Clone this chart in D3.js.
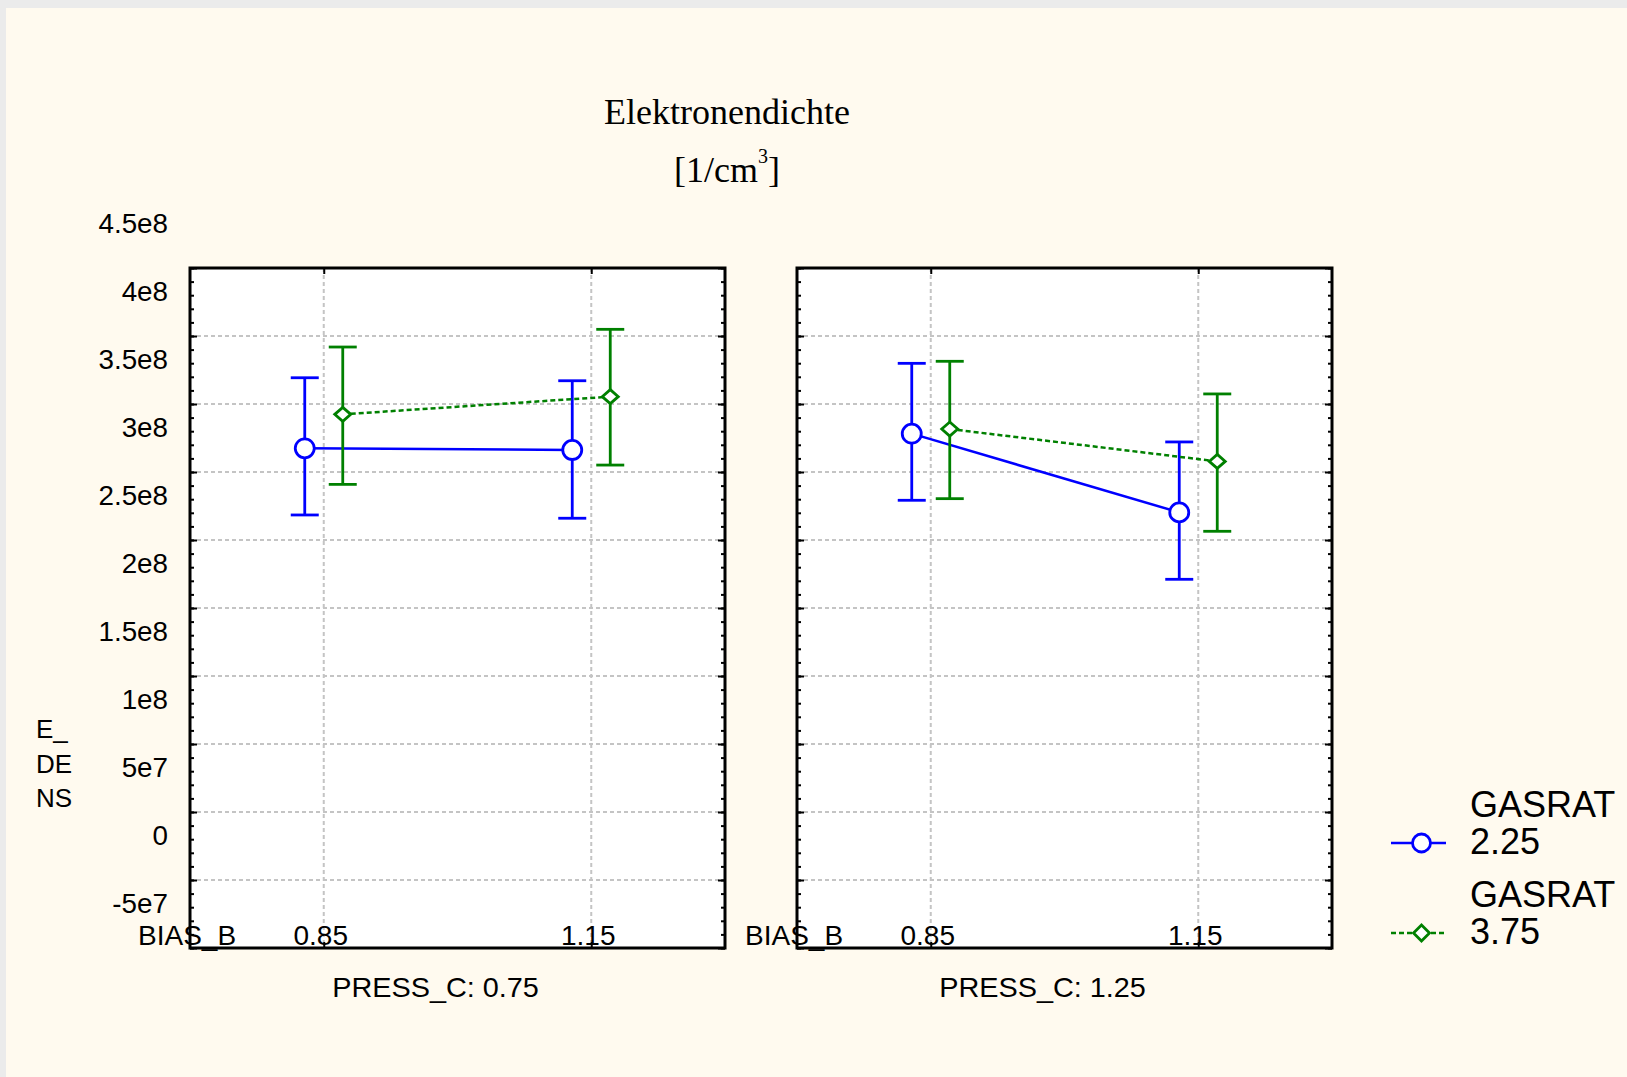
<!DOCTYPE html>
<html>
<head>
<meta charset="utf-8">
<script src="https://cdn.jsdelivr.net/npm/d3@7"></script>
<style>
  body { margin: 0; background: #ebebeb; }
  svg { display: block; }
</style>
</head>
<body>
<div id="chart"></div>
<script>
// Factor levels
var biasLevels = [0.85, 1.15];
var biasLabels = ["0.85", "1.15"];
var pressLevels = ["0.75", "1.25"];
var gasratLevels = ["2.25", "3.75"];

// Means and confidence limits, one row per PRESS_C panel, one value per BIAS_B level
var mean225 = [[2.674e8, 2.662e8], [2.782e8, 2.203e8]];
var low225  = [[2.184e8, 2.160e8], [2.292e8, 1.711e8]];
var high225 = [[3.193e8, 3.171e8], [3.299e8, 2.721e8]];

var mean375 = [[2.924e8, 3.054e8], [2.816e8, 2.578e8]];
var low375  = [[2.409e8, 2.551e8], [2.304e8, 2.064e8]];
var high375 = [[3.419e8, 3.549e8], [3.314e8, 3.074e8]];

// Y axis ticks
var yTickValues = [-5e7, 0, 5e7, 1e8, 1.5e8, 2e8, 2.5e8, 3e8, 3.5e8, 4e8, 4.5e8];
var yTickLabels = ["-5e7", "0", "5e7", "1e8", "1.5e8", "2e8", "2.5e8", "3e8", "3.5e8", "4e8", "4.5e8"];

var width = 1627, height = 1077;
var sans = "'Liberation Sans', Arial, sans-serif";
var serif = "'Liberation Serif', 'Times New Roman', serif";

var svg = d3.select("#chart").append("svg")
    .attr("width", width)
    .attr("height", height);

// page background
svg.append("rect").attr("width", width).attr("height", height).attr("fill", "#ebebeb");
svg.append("rect").attr("x", 6).attr("y", 8).attr("width", width - 6).attr("height", height - 8).attr("fill", "#fffaef");

// text helper with a horizontal stretch like the original rendering
function label(g, x, y, str, size, sx, anchor, family) {
    return g.append("text")
        .attr("transform", "translate(" + x + "," + y + ") scale(" + sx + ",1)")
        .attr("text-anchor", anchor || "start")
        .attr("font-family", family || sans)
        .attr("font-size", size)
        .attr("fill", "#000")
        .text(str);
}

// layout
var panelTop = 268, panelBottom = 948;
var panelW = 535, panelGap = 72, panelLeft0 = 190;
var dodge = [-19, 19];

var y = d3.scaleLinear().domain([-1e8, 4e8]).range([panelBottom, panelTop]);
var x = d3.scaleLinear().domain([0.7, 1.3]).range([0, panelW]);

var series = [
    { name: gasratLevels[0], mean: mean225, low: low225, high: high225, color: "#0000ff", dash: null, marker: "circle" },
    { name: gasratLevels[1], mean: mean375, low: low375, high: high375, color: "#008000", dash: "5,3", marker: "diamond" }
];

function drawMarker(g, type, color) {
    if (type === "circle") {
        g.append("circle").attr("r", 9.5).attr("fill", "#fff").attr("stroke", color).attr("stroke-width", 2.8);
    } else {
        g.append("path").attr("d", "M0,-7L8,0L0,7L-8,0Z").attr("fill", "#fff").attr("stroke", color).attr("stroke-width", 2.8);
    }
}

// Title
label(svg, 727, 124, "Elektronendichte", 36, 1, "middle", serif);
var sub = svg.append("text")
    .attr("x", 727).attr("y", 182)
    .attr("text-anchor", "middle")
    .attr("font-family", serif)
    .attr("font-size", 36);
sub.append("tspan").text("[1/cm");
sub.append("tspan").attr("font-size", 20).attr("dy", -19).text("3");
sub.append("tspan").attr("dy", 19).text("]");

// Y tick labels (drawn below their tick, like the original)
yTickValues.forEach(function(v, i) {
    label(svg, 168, y(v) + 33, yTickLabels[i], 27, 1.03, "end");
});

// Y axis title
["E_", "DE", "NS"].forEach(function(s, i) {
    label(svg, 36, 738 + i * 34.5, s, 26, 1, "start");
});

pressLevels.forEach(function(press, p) {
    var px = panelLeft0 + p * (panelW + panelGap);
    var g = svg.append("g").attr("transform", "translate(" + px + ",0)");

    g.append("rect")
        .attr("x", 0).attr("y", panelTop)
        .attr("width", panelW).attr("height", panelBottom - panelTop)
        .attr("fill", "#fff");

    // grid
    var grid = g.append("g").attr("class", "grid");
    grid.selectAll("line.h")
        .data(yTickValues.filter(function(v) { return y(v) > panelTop + 2 && y(v) < panelBottom - 2; }))
        .enter().append("line")
        .attr("x1", 0).attr("x2", panelW)
        .attr("y1", function(d) { return y(d); }).attr("y2", function(d) { return y(d); })
        .attr("stroke", "#c4c4c4").attr("stroke-width", 2).attr("stroke-dasharray", "4,3");
    grid.selectAll("line.v")
        .data(biasLevels)
        .enter().append("line")
        .attr("x1", function(d) { return x(d); }).attr("x2", function(d) { return x(d); })
        .attr("y1", panelTop).attr("y2", panelBottom)
        .attr("stroke", "#c4c4c4").attr("stroke-width", 2).attr("stroke-dasharray", "4,3");

    // minor and major ticks on left/right borders (inward)
    var minor = d3.range(-1e8, 4e8 + 1, 1e7);
    var major = d3.range(-1e8, 4e8 + 1, 5e7);
    var leftAxis = d3.axisRight(y).tickValues(minor).tickSize(4).tickFormat("");
    var rightAxis = d3.axisLeft(y).tickValues(minor).tickSize(4).tickFormat("");
    g.append("g").call(leftAxis).call(function(a) { a.select(".domain").remove(); })
        .selectAll("line").attr("stroke", "#000").attr("stroke-width", 2);
    g.append("g").attr("transform", "translate(" + panelW + ",0)").call(rightAxis)
        .call(function(a) { a.select(".domain").remove(); })
        .selectAll("line").attr("stroke", "#000").attr("stroke-width", 2);
    g.append("g").call(d3.axisRight(y).tickValues(major).tickSize(7).tickFormat(""))
        .call(function(a) { a.select(".domain").remove(); })
        .selectAll("line").attr("stroke", "#000").attr("stroke-width", 2);
    g.append("g").attr("transform", "translate(" + panelW + ",0)")
        .call(d3.axisLeft(y).tickValues(major).tickSize(7).tickFormat(""))
        .call(function(a) { a.select(".domain").remove(); })
        .selectAll("line").attr("stroke", "#000").attr("stroke-width", 2);
    // top and bottom ticks at the categories
    g.append("g").attr("transform", "translate(0," + panelTop + ")")
        .call(d3.axisBottom(x).tickValues(biasLevels).tickSize(6).tickFormat(""))
        .call(function(a) { a.select(".domain").remove(); })
        .selectAll("line").attr("stroke", "#000").attr("stroke-width", 2);

    // category labels
    biasLevels.forEach(function(b, i) {
        label(g, x(b) - 3, 945, biasLabels[i], 28, 1, "middle");
    });
    label(g, -52, 945, "BIAS_B", 28, 1, "start");

    g.append("g").attr("transform", "translate(0," + panelBottom + ")")
        .call(d3.axisTop(x).tickValues(biasLevels).tickSize(6).tickFormat(""))
        .call(function(a) { a.select(".domain").remove(); })
        .selectAll("line").attr("stroke", "#000").attr("stroke-width", 2);

    // frame
    g.append("rect")
        .attr("x", 0).attr("y", panelTop)
        .attr("width", panelW).attr("height", panelBottom - panelTop)
        .attr("fill", "none").attr("stroke", "#000").attr("stroke-width", 3);

    label(g, panelW / 2 - 22, 997, "PRESS_C: " + press, 28, 1.03, "middle");

    // series
    series.forEach(function(s, k) {
        var pts = biasLevels.map(function(b, i) {
            return { x: x(b) + dodge[k], m: s.mean[p][i], lo: s.low[p][i], hi: s.high[p][i] };
        });
        var sg = g.append("g");
        // error bars
        pts.forEach(function(d) {
            sg.append("line").attr("x1", d.x).attr("x2", d.x).attr("y1", y(d.lo)).attr("y2", y(d.hi))
                .attr("stroke", s.color).attr("stroke-width", 2.8);
            [d.lo, d.hi].forEach(function(v) {
                sg.append("line").attr("x1", d.x - 14).attr("x2", d.x + 14).attr("y1", y(v)).attr("y2", y(v))
                    .attr("stroke", s.color).attr("stroke-width", 2.8);
            });
        });
        sg.append("path")
            .datum(pts)
            .attr("d", d3.line().x(function(d) { return d.x; }).y(function(d) { return y(d.m); }))
            .attr("fill", "none").attr("stroke", s.color).attr("stroke-width", 2.5)
            .attr("stroke-dasharray", s.dash);
        pts.forEach(function(d) {
            var mg = sg.append("g").attr("transform", "translate(" + d.x + "," + y(d.m) + ")");
            drawMarker(mg, s.marker, s.color);
        });
    });
});

// Legend
series.forEach(function(s, k) {
    var ly = 843 + k * 90;
    var lg = svg.append("g");
    lg.append("line").attr("x1", 1391).attr("x2", 1446).attr("y1", ly).attr("y2", ly)
        .attr("stroke", s.color).attr("stroke-width", 2.5).attr("stroke-dasharray", s.dash);
    var mg = lg.append("g").attr("transform", "translate(1421.5," + ly + ")");
    if (s.marker === "circle") {
        mg.append("circle").attr("r", 9).attr("fill", "#fff").attr("stroke", s.color).attr("stroke-width", 2.8);
    } else {
        mg.append("path").attr("d", "M0,-8L8,0L0,8L-8,0Z").attr("fill", "#fff").attr("stroke", s.color).attr("stroke-width", 2.8);
    }
    label(lg, 1470, ly - 26, "GASRAT", 36, 1, "start");
    label(lg, 1470, ly + 11, s.name, 36, 1, "start");
});
</script>
</body>
</html>
